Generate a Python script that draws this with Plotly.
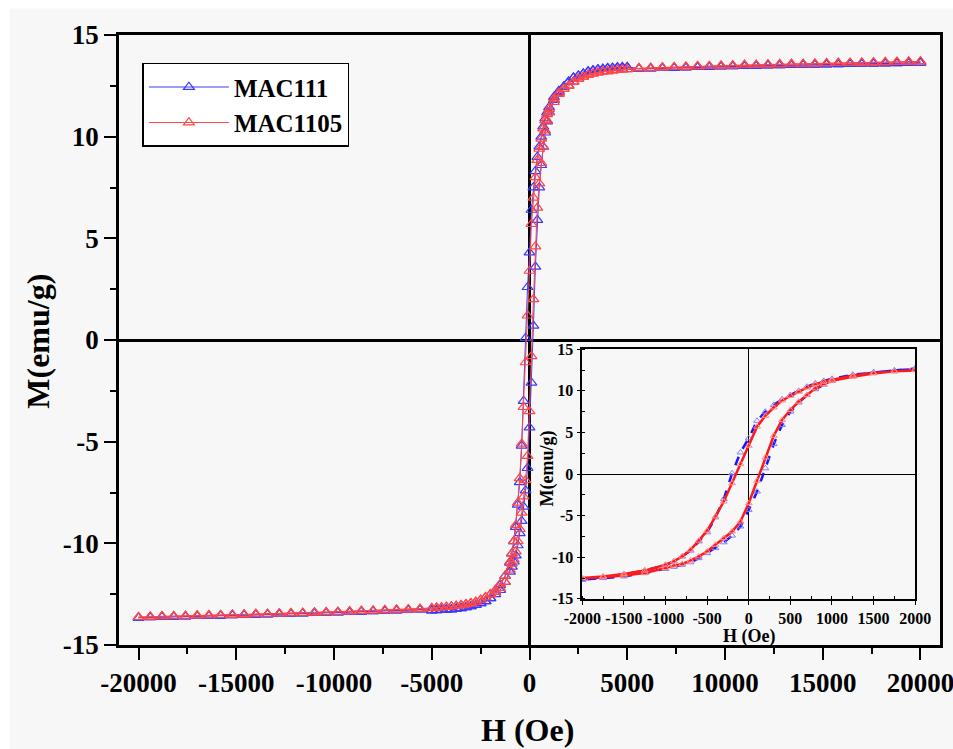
import plotly.graph_objects as go

# ---------------- data ----------------
# field values of the shared saturation region, positive side (Oe)
H_pos_outer = [2000, 2250, 2500, 2750, 3000, 3250, 3500, 3750, 4000, 4250, 4500, 4750, 5000,
               5600, 6200, 6800, 7400, 8000, 8600, 9200, 9800, 10400, 11000, 11600, 12200,
               12800, 13400, 14000, 14600, 15200, 15800, 16400, 17000, 17600, 18200, 18800,
               19400, 20000]
# negative side (Oe)
H_neg_outer = [-2000, -2250, -2500, -2750, -3000, -3250, -3500, -3750, -4000, -4250, -4500,
               -4750, -5000, -5600, -6200, -6800, -7400, -8000, -8600, -9200, -9800, -10400,
               -11000, -11600, -12200, -12800, -13400, -14000, -14600, -15200, -15800, -16400,
               -17000, -17600, -18200, -18800, -19400, -20000]
# field values of the hysteretic inner part (Oe)
H_inner_desc = [1750, 1500, 1250, 1000, 900, 800, 700, 600, 500, 400, 300, 200, 100, 0,
                -100, -200, -300, -400, -500, -600, -700, -800, -900, -1000, -1250, -1500, -1750]
H_inner_asc = [-1750, -1500, -1250, -1000, -900, -800, -700, -600, -500, -400, -300, -200, -100,
               0, 100, 200, 300, 400, 500, 600, 700, 800, 900, 1000, 1250, 1500, 1750]

# MAC111 (blue)
M111_pos_outer = [12.7, 12.9, 13.0, 13.1, 13.2, 13.25, 13.3, 13.33, 13.36, 13.38, 13.4, 13.41,
                  13.42, 13.34, 13.35, 13.37, 13.38, 13.4, 13.42, 13.43, 13.45, 13.46, 13.47,
                  13.48, 13.5, 13.51, 13.52, 13.53, 13.54, 13.55, 13.56, 13.57, 13.58, 13.59,
                  13.6, 13.61, 13.62, 13.63]
M111_neg_outer = [-12.7, -12.85, -12.95, -13.03, -13.1, -13.15, -13.19, -13.22, -13.25, -13.27,
                  -13.28, -13.29, -13.3, -13.26, -13.28, -13.3, -13.32, -13.34, -13.36, -13.38,
                  -13.4, -13.42, -13.43, -13.45, -13.47, -13.48, -13.5, -13.51, -13.53, -13.54,
                  -13.56, -13.57, -13.58, -13.6, -13.61, -13.62, -13.64, -13.66]
M111_inner_desc = [12.45, 12.25, 11.95, 11.45, 11.2, 10.9, 10.5, 10.0, 9.5, 9.0, 8.3, 7.5, 6.4,
                   4.3, 2.6, 0.1, -3.0, -5.2, -7.0, -8.1, -9.2, -9.9, -10.5, -10.95, -11.6,
                   -12.05, -12.4]
M111_inner_asc = [-12.5, -12.3, -11.9, -11.4, -11.15, -10.9, -10.6, -10.1, -9.5, -8.9, -8.2,
                  -7.4, -6.3, -4.3, -2.1, 0.7, 3.6, 5.9, 7.5, 8.6, 9.5, 10.2, 10.75, 11.2, 11.8,
                  12.2, 12.45]

# MAC1105 (red)
M1105_pos_outer = [12.5, 12.7, 12.85, 12.95, 13.05, 13.1, 13.15, 13.2, 13.22, 13.25, 13.28, 13.3,
                   13.32, 13.36, 13.38, 13.4, 13.42, 13.44, 13.46, 13.47, 13.49, 13.5, 13.52,
                   13.53, 13.55, 13.56, 13.57, 13.58, 13.59, 13.61, 13.62, 13.63, 13.64, 13.65,
                   13.66, 13.67, 13.68, 13.7]
M1105_neg_outer = [-12.5, -12.65, -12.78, -12.88, -12.95, -13.0, -13.05, -13.08, -13.1, -13.13,
                   -13.15, -13.17, -13.19, -13.23, -13.25, -13.27, -13.29, -13.31, -13.33, -13.35,
                   -13.37, -13.39, -13.4, -13.42, -13.44, -13.45, -13.47, -13.48, -13.5, -13.51,
                   -13.53, -13.54, -13.55, -13.57, -13.58, -13.59, -13.61, -13.63]
M1105_inner_desc = [12.35, 12.15, 11.85, 11.35, 11.1, 10.8, 10.4, 9.9, 9.4, 8.85, 8.0, 7.0, 5.7,
                    3.4, 1.2, -1.1, -3.3, -5.1, -6.8, -8.0, -9.1, -9.9, -10.5, -10.9, -11.6,
                    -12.0, -12.3]
M1105_inner_asc = [-12.4, -12.2, -11.9, -11.3, -11.0, -10.8, -10.4, -9.9, -9.3, -8.5, -7.7, -6.9,
                   -5.7, -3.5, -0.8, 2.0, 4.6, 6.5, 7.7, 8.7, 9.5, 10.3, 10.8, 11.2, 11.7, 12.1,
                   12.35]

series_names = ["MAC111", "MAC1105"]
x_ticks_main = [-20000, -15000, -10000, -5000, 0, 5000, 10000, 15000, 20000]
x_ticklabels_main = ["-20000", "-15000", "-10000", "-5000", "0", "5000", "10000", "15000", "20000"]
y_ticks = [-15, -10, -5, 0, 5, 10, 15]
y_ticklabels = ["-15", "-10", "-5", "0", "5", "10", "15"]
x_ticks_inset = [-2000, -1500, -1000, -500, 0, 500, 1000, 1500, 2000]
x_ticklabels_inset = ["-2000", "-1500", "-1000", "-500", "0", "500", "1000", "1500", "2000"]


def loop(pos_outer, neg_outer, inner_desc, inner_asc):
    """Full hysteresis loop: +20 kOe -> -20 kOe -> +20 kOe."""
    H = (H_pos_outer[::-1] + H_inner_desc + H_neg_outer
         + H_neg_outer[::-1] + H_inner_asc + H_pos_outer)
    M = (pos_outer[::-1] + inner_desc + neg_outer
         + neg_outer[::-1] + inner_asc + pos_outer)
    return H, M


H111, M111 = loop(M111_pos_outer, M111_neg_outer, M111_inner_desc, M111_inner_asc)
H1105, M1105 = loop(M1105_pos_outer, M1105_neg_outer, M1105_inner_desc, M1105_inner_asc)

# ---------------- figure ----------------
FONT = "Liberation Serif"
BLUE = "#3a3aff"
RED = "#ff4646"

fig = go.Figure()

# main plot
fig.add_trace(go.Scatter(
    x=H111, y=M111, name=series_names[0], mode="lines+markers",
    line=dict(color=BLUE, width=1),
    marker=dict(symbol="triangle-up-open", size=9.5, color=BLUE, line=dict(width=1.2)),
    xaxis="x", yaxis="y"))
fig.add_trace(go.Scatter(
    x=H1105, y=M1105, name=series_names[1], mode="lines+markers",
    line=dict(color=RED, width=1),
    marker=dict(symbol="triangle-up-open", size=9.5, color=RED, line=dict(width=1.2)),
    xaxis="x", yaxis="y"))

# inset
fig.add_trace(go.Scatter(
    x=H111, y=M111, mode="lines+markers", showlegend=False,
    line=dict(color="#1515ff", width=2.5, dash="dash"),
    marker=dict(symbol="triangle-up-open", size=6, color="#8080ff", line=dict(width=1)),
    xaxis="x2", yaxis="y2"))
fig.add_trace(go.Scatter(
    x=H1105, y=M1105, mode="lines+markers", showlegend=False,
    line=dict(color="#ff1a1a", width=2.5),
    marker=dict(symbol="triangle-up-open", size=6, color="#ff8a8a", line=dict(width=1)),
    xaxis="x2", yaxis="y2"))

tickfont_main = dict(family=FONT, size=27, color="black", weight="bold")
tickfont_inset = dict(family=FONT, size=16, color="black", weight="bold")

# page body margin is removed in post_script, so figure pixels = window pixels
FW, FH = 953, 749
L, R, T, B = 119.3, 940.5, 34.5, 645.5   # main plot area
W, Hh = R - L, B - T


def px_x(p):
    return (p - L) / W


def px_y(p):
    return (B - p) / Hh


fig.update_layout(
    width=FW, height=FH,
    margin=dict(l=L, r=FW - R, t=T, b=FH - B, autoexpand=False),
    paper_bgcolor="white",
    plot_bgcolor="rgba(0,0,0,0)",
    showlegend=True,
    legend=dict(
        x=px_x(142.7), y=px_y(62.3), xanchor="left", yanchor="top",
        bgcolor="white", bordercolor="black", borderwidth=1.5,
        font=dict(family=FONT, size=25, color="black", weight="bold"),
        itemwidth=80, tracegroupgap=0,
    ),
    xaxis=dict(
        domain=[0, 1], range=[-21000, 21000],
        tickvals=x_ticks_main, ticktext=x_ticklabels_main, automargin=False,
        ticklabeloverflow="allow",
        showline=True, mirror=True, linecolor="black", linewidth=2.5,
        ticks="outside", ticklen=12, tickwidth=2, tickcolor="black",
        minor=dict(ticks="outside", ticklen=6, tickwidth=2, tickcolor="black",
                   dtick=2500, tick0=0),
        showgrid=False, zeroline=True, zerolinecolor="black", zerolinewidth=2.5,
        tickfont=tickfont_main, tickangle=0,
    ),
    yaxis=dict(
        domain=[0, 1], range=[-15, 15],
        tickvals=y_ticks, ticktext=y_ticklabels, automargin=False,
        ticklabeloverflow="allow",
        showline=True, mirror=True, linecolor="black", linewidth=2.5,
        ticks="outside", ticklen=12, tickwidth=2, tickcolor="black",
        minor=dict(ticks="outside", ticklen=6, tickwidth=2, tickcolor="black",
                   dtick=2.5, tick0=0),
        showgrid=False, zeroline=True, zerolinecolor="black", zerolinewidth=2.5,
        tickfont=tickfont_main,
    ),
    xaxis2=dict(
        domain=[px_x(582.7), px_x(915.7)], anchor="y2", range=[-2000, 2000],
        tickvals=x_ticks_inset, ticktext=x_ticklabels_inset, automargin=False, tickangle=0,
        ticklabeloverflow="allow",
        showline=True, mirror=True, linecolor="black", linewidth=1.5,
        ticks="outside", ticklen=4, tickwidth=1.2, tickcolor="black",
        minor=dict(ticks="inside", ticklen=3, tickwidth=1, tickcolor="black",
                   dtick=250, tick0=0),
        showgrid=False, zeroline=True, zerolinecolor="black", zerolinewidth=1.2,
        tickfont=tickfont_inset,
    ),
    yaxis2=dict(
        domain=[px_y(599.3), px_y(349.3)], anchor="x2", range=[-15, 15],
        tickvals=y_ticks, ticktext=y_ticklabels, automargin=False,
        ticklabeloverflow="allow",
        showline=True, mirror=True, linecolor="black", linewidth=1.5,
        ticks="outside", ticklen=4, tickwidth=1.2, tickcolor="black",
        minor=dict(ticks="inside", ticklen=3, tickwidth=1, tickcolor="black",
                   dtick=2.5, tick0=0),
        showgrid=False, zeroline=True, zerolinecolor="black", zerolinewidth=1.2,
        tickfont=tickfont_inset,
    ),
    shapes=[dict(type="rect", xref="paper", yref="paper", layer="below",
                 x0=px_x(10), x1=px_x(960), y0=px_y(760), y1=px_y(8),
                 fillcolor="#f7f7f7", line=dict(width=0))],
    annotations=[
        dict(text="H (Oe)", xref="paper", yref="paper", x=px_x(528), y=px_y(731),
             showarrow=False, xanchor="center", yanchor="middle",
             font=dict(family=FONT, size=32, color="black", weight="bold")),
        dict(text="M(emu/g)", xref="paper", yref="paper", x=px_x(38), y=px_y(341),
             showarrow=False, xanchor="center", yanchor="middle", textangle=-90,
             font=dict(family=FONT, size=32, color="black", weight="bold")),
        dict(text="H (Oe)", xref="paper", yref="paper", x=px_x(749), y=px_y(637),
             showarrow=False, xanchor="center", yanchor="middle",
             font=dict(family=FONT, size=18, color="black", weight="bold")),
        dict(text="M(emu/g)", xref="paper", yref="paper", x=px_x(548), y=px_y(469),
             showarrow=False, xanchor="center", yanchor="middle", textangle=-90,
             font=dict(family=FONT, size=18, color="black", weight="bold")),
    ],
)

fig.write_html(
    "out.html",
    config={"displayModeBar": False},
    post_script="document.body.style.margin='0';"
                "document.documentElement.style.overflow='hidden';"
                "document.body.style.overflow='hidden';",
)
